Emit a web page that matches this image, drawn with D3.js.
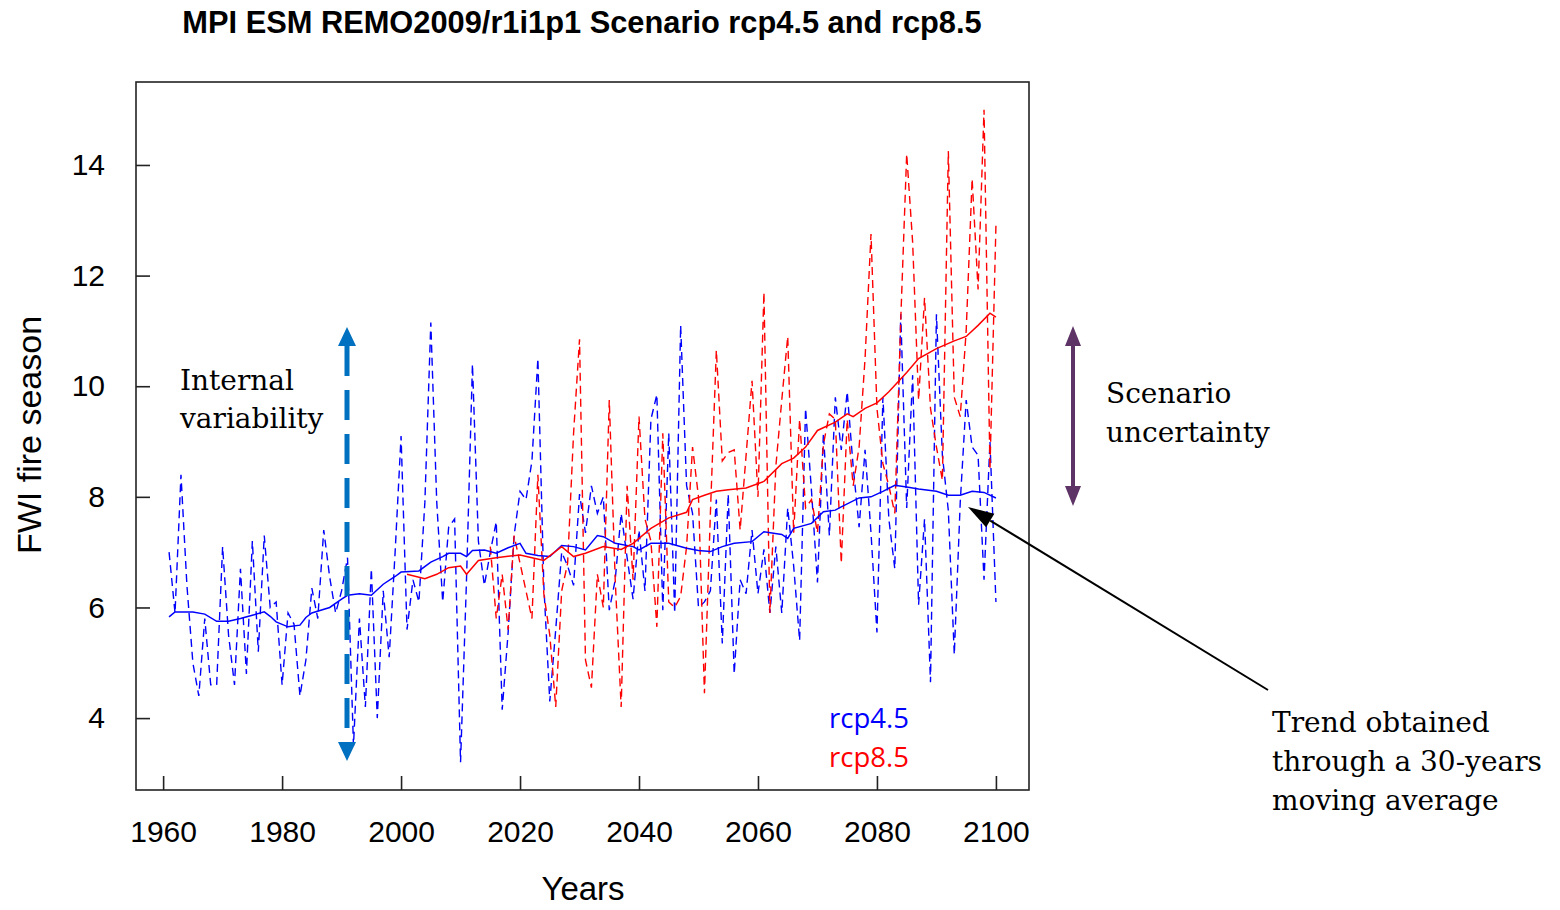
<!DOCTYPE html>
<html>
<head>
<meta charset="utf-8">
<script src="https://cdn.jsdelivr.net/npm/d3@7"></script>
<style>
  body { margin: 0; background: #fff; }
  svg text { font-family: "Liberation Sans", Arial, sans-serif; }
  .note { font-family: "DejaVu Serif", serif; fill: #000; }
</style>
</head>
<body>
<div id="chart"><svg></svg></div>
<script>
// --- data ---
const rcp45Start = 1961;
const rcp45 = [
  7.0, 5.9, 8.4, 6.4, 5.0, 4.4, 5.8, 4.6, 4.6, 7.1,
  5.5, 4.6, 6.7, 4.8, 7.2, 5.2, 7.3, 6.0, 6.1, 4.6,
  5.9, 5.7, 4.4, 5.05, 6.35, 5.8, 7.4, 6.55, 5.9, 6.3,
  6.9, 3.5, 5.8, 4.2, 6.7, 4.0, 6.3, 5.1, 7.0, 9.1,
  5.6, 6.5, 6.1, 7.9, 11.15, 7.9, 6.1, 7.45, 7.6, 3.2,
  6.5, 10.4, 7.2, 6.4, 7.0, 7.55, 4.15, 5.55, 7.3, 8.1,
  7.95, 8.65, 10.5, 6.4, 4.3, 5.6, 7.0, 6.75, 6.4, 8.05,
  7.35, 8.2, 7.7, 8.0, 5.95, 6.5, 7.7, 6.9, 6.15, 7.4,
  6.3, 9.4, 9.85, 5.95, 9.15, 5.9, 11.1, 8.2, 7.7, 6.0,
  6.1, 6.3, 7.95, 5.35, 8.05, 4.8, 6.5, 6.25, 7.4, 6.25,
  7.05, 5.9, 7.1, 5.9, 7.8, 6.75, 5.4, 9.6, 8.1, 6.45,
  9.15, 7.3, 9.8, 8.85, 9.9, 8.55, 7.45, 8.85, 7.35, 5.55,
  9.8, 7.6, 6.7, 11.3, 7.8, 10.2, 6.05, 7.6, 4.65, 11.3,
  8.75, 7.75, 5.15, 7.9, 9.75, 8.9, 8.75, 6.5, 9.0, 6.1
];

const rcp85Start = 2015;
const rcp85 = [
  7.1, 5.8, 6.6, 5.6, 7.3, 6.8, 6.3, 5.8, 8.4, 6.25,
  5.5, 4.2, 6.3, 6.8, 9.15, 10.85, 5.05, 4.55, 6.6, 6.0,
  9.75, 6.5, 4.2, 8.2, 6.5, 9.45, 7.6, 7.2, 5.65, 9.15,
  6.1, 6.0, 6.2, 7.1, 8.9, 8.0, 4.45, 7.7, 10.65, 8.65,
  8.8, 8.85, 7.4, 8.75, 10.1, 8.0, 11.7, 5.9, 8.55, 9.75,
  10.9, 7.35, 9.4, 7.8, 7.95, 7.35, 8.95, 9.5, 9.4, 6.8,
  9.4, 8.2, 8.9, 10.5, 12.75, 9.6, 8.6, 8.2, 7.7, 11.2,
  14.2, 12.6, 9.75, 11.6, 9.6, 8.9, 8.3, 14.25, 9.8, 9.45,
  11.0, 13.75, 11.75, 15.0, 8.5, 12.9
];

// 30-year moving averages (solid lines), read at the years below
const ma45Years = [1961, 1962, 1965, 1967, 1969, 1971, 1973, 1975, 1977, 1978, 1979, 1981, 1983, 1984, 1985,
  1988, 1990, 1991, 1993, 1995, 1997, 1999, 2000, 2003, 2005, 2007, 2008, 2010, 2011, 2012, 2014, 2016,
  2018, 2020, 2021, 2023, 2025, 2027, 2029, 2031, 2033, 2034, 2036, 2039, 2040, 2042, 2045, 2048, 2050,
  2052, 2054, 2056, 2059, 2061, 2064, 2065, 2066, 2069, 2071, 2073, 2074, 2077, 2079, 2081, 2083, 2085,
  2087, 2090, 2092, 2094, 2096, 2098, 2100];
const ma45 = [5.83, 5.92, 5.92, 5.88, 5.75, 5.75, 5.8, 5.86, 5.92, 5.84, 5.74, 5.65, 5.68, 5.82, 5.9,
  6.0, 6.15, 6.22, 6.25, 6.22, 6.42, 6.56, 6.64, 6.66, 6.82, 6.92, 6.98, 6.98, 6.92, 7.03, 7.04, 6.98,
  7.08, 7.16, 6.98, 6.94, 6.92, 7.12, 7.1, 7.04, 7.3, 7.28, 7.16, 7.1, 7.04, 7.16, 7.16, 7.07, 7.03,
  7.01, 7.1, 7.16, 7.19, 7.37, 7.32, 7.25, 7.43, 7.52, 7.73, 7.76, 7.82, 7.98, 8.0, 8.1, 8.21, 8.18,
  8.14, 8.1, 8.03, 8.03, 8.1, 8.08, 7.98];

const ma85Years = [2001, 2004, 2006, 2008, 2010, 2011, 2013, 2016, 2020, 2022, 2024, 2027, 2029, 2031,
  2034, 2037, 2039, 2042, 2045, 2048, 2049, 2051, 2053, 2055, 2058, 2061, 2064, 2066, 2068, 2070, 2073,
  2075, 2076, 2078, 2080, 2082, 2085, 2087, 2090, 2093, 2095, 2097, 2099, 2100];
const ma85 = [6.6, 6.52, 6.6, 6.72, 6.75, 6.6, 6.85, 6.9, 6.95, 6.9, 6.85, 7.1, 6.92, 6.98,
  7.1, 7.05, 7.16, 7.43, 7.62, 7.72, 7.95, 8.03, 8.1, 8.13, 8.16, 8.28, 8.6, 8.7, 8.9, 9.2, 9.35,
  9.5, 9.45, 9.6, 9.7, 9.9, 10.25, 10.5, 10.68, 10.82, 10.9, 11.1, 11.32, 11.25];

const xTicks = [1960, 1980, 2000, 2020, 2040, 2060, 2080, 2100];
const yTicks = [4, 6, 8, 10, 12, 14];

const titleText = "MPI ESM REMO2009/r1i1p1 Scenario rcp4.5 and rcp8.5";

// --- layout ---
const W = 1560, H = 910;
const box = { left: 136, right: 1029, top: 82, bottom: 790 };

const svg = d3.select("#chart svg")
  .attr("width", W)
  .attr("height", H);

// R style: 4% padding around the data range
const x = d3.scaleLinear()
  .domain([1961 - 0.04 * 139, 2100 + 0.04 * 139])
  .range([box.left, box.right]);
const y = d3.scaleLinear()
  .domain([2.70, 15.5])
  .range([box.bottom, box.top]);

svg.append("defs").append("clipPath").attr("id", "plotclip")
  .append("rect")
  .attr("x", box.left).attr("y", box.top)
  .attr("width", box.right - box.left).attr("height", box.bottom - box.top);

const toPts = (start, vals) => vals.map((v, i) => [start + i, v]);
const line = d3.line().x(d => x(d[0])).y(d => y(d[1]));

const plot = svg.append("g").attr("clip-path", "url(#plotclip)");

plot.append("path")
  .attr("d", line(toPts(rcp45Start, rcp45)))
  .attr("fill", "none")
  .attr("stroke", "#0000ff")
  .attr("stroke-width", 1.4)
  .attr("stroke-dasharray", "8,5");

plot.append("path")
  .attr("d", line(toPts(rcp85Start, rcp85)))
  .attr("fill", "none")
  .attr("stroke", "#ff0000")
  .attr("stroke-width", 1.4)
  .attr("stroke-dasharray", "8,5");

plot.append("path")
  .attr("d", line(ma45Years.map((yr, i) => [yr, ma45[i]])))
  .attr("fill", "none")
  .attr("stroke", "#0000ff")
  .attr("stroke-width", 1.5);

plot.append("path")
  .attr("d", line(ma85Years.map((yr, i) => [yr, ma85[i]])))
  .attr("fill", "none")
  .attr("stroke", "#ff0000")
  .attr("stroke-width", 1.5);

// box
svg.append("rect")
  .attr("x", box.left).attr("y", box.top)
  .attr("width", box.right - box.left).attr("height", box.bottom - box.top)
  .attr("fill", "none")
  .attr("stroke", "#222")
  .attr("stroke-width", 1.6);

// axes, ticks pointing inwards
const xAxis = svg.append("g")
  .attr("transform", `translate(0,${box.bottom})`)
  .call(d3.axisBottom(x).tickValues(xTicks).tickFormat(d3.format("d"))
    .tickSize(-14).tickPadding(31));
xAxis.select(".domain").remove();
xAxis.selectAll(".tick line").attr("stroke", "#222").attr("stroke-width", 1.6);
xAxis.selectAll(".tick text")
  .attr("font-size", 30).attr("fill", "#000")
  .style("font-family", "'Liberation Sans', Arial, sans-serif");

const yAxis = svg.append("g")
  .attr("transform", `translate(${box.left},0)`)
  .call(d3.axisLeft(y).tickValues(yTicks).tickSize(-14).tickPadding(31));
yAxis.select(".domain").remove();
yAxis.selectAll(".tick line").attr("stroke", "#222").attr("stroke-width", 1.6);
yAxis.selectAll(".tick text")
  .attr("font-size", 30).attr("fill", "#000")
  .style("font-family", "'Liberation Sans', Arial, sans-serif");

// titles
svg.append("text")
  .attr("x", 582).attr("y", 33)
  .attr("text-anchor", "middle")
  .attr("font-size", 30.8).attr("font-weight", "bold")
  .text(titleText);

svg.append("text")
  .attr("x", 583).attr("y", 900)
  .attr("text-anchor", "middle")
  .attr("font-size", 33)
  .text("Years");

svg.append("text")
  .attr("transform", "translate(41,435) rotate(-90)")
  .attr("text-anchor", "middle")
  .attr("font-size", 34)
  .text("FWI fire season");

// legend
svg.append("text").attr("x", 829).attr("y", 728)
  .attr("font-size", 27.5).attr("fill", "#0000ff")
  .style("font-family", "'Open Sans', sans-serif")
  .text("rcp4.5");
svg.append("text").attr("x", 829).attr("y", 767)
  .attr("font-size", 27.5).attr("fill", "#ff0000")
  .style("font-family", "'Open Sans', sans-serif")
  .text("rcp8.5");

// annotations
const notes = [
  { x: 180, y: 390, t: "Internal" },
  { x: 180, y: 428, t: "variability" },
  { x: 1106, y: 403, t: "Scenario" },
  { x: 1106, y: 442, t: "uncertainty" },
  { x: 1272, y: 732, t: "Trend obtained" },
  { x: 1272, y: 771, t: "through a 30-years" },
  { x: 1272, y: 810, t: "moving average" }
];
svg.selectAll("text.note")
  .data(notes)
  .enter()
  .append("text")
  .attr("class", "note")
  .attr("x", d => d.x)
  .attr("y", d => d.y)
  .attr("font-size", 28)
  .text(d => d.t);

// internal variability arrow (dashed, blue)
const ivX = 347;
svg.append("line")
  .attr("x1", ivX).attr("x2", ivX)
  .attr("y1", 346).attr("y2", 742)
  .attr("stroke", "#0070c0")
  .attr("stroke-width", 5)
  .attr("stroke-dasharray", "30,14");
svg.append("path")
  .attr("d", `M${ivX},327 L${ivX - 9},346 L${ivX + 9},346 Z M${ivX},761 L${ivX - 9},742 L${ivX + 9},742 Z`)
  .attr("fill", "#0070c0");

// scenario uncertainty arrow (purple)
const suX = 1073;
svg.append("line")
  .attr("x1", suX).attr("x2", suX)
  .attr("y1", 340).attr("y2", 492)
  .attr("stroke", "#5e3366")
  .attr("stroke-width", 4);
svg.append("path")
  .attr("d", `M${suX},326 L${suX - 8},346 L${suX + 8},346 Z M${suX},506 L${suX - 8},486 L${suX + 8},486 Z`)
  .attr("fill", "#5e3366");

// pointer to the trend line
const tip = [968, 507], tail = [1268, 690];
const ang = Math.atan2(tail[1] - tip[1], tail[0] - tip[0]);
const hl = 26, hw = 8;
const bx = tip[0] + hl * Math.cos(ang), by = tip[1] + hl * Math.sin(ang);
svg.append("line")
  .attr("x1", bx).attr("y1", by)
  .attr("x2", tail[0]).attr("y2", tail[1])
  .attr("stroke", "#000")
  .attr("stroke-width", 2);
svg.append("path")
  .attr("d", `M${tip[0]},${tip[1]} L${bx - hw * Math.sin(ang)},${by + hw * Math.cos(ang)} L${bx + hw * Math.sin(ang)},${by - hw * Math.cos(ang)} Z`)
  .attr("fill", "#000");
</script>
</body>
</html>
